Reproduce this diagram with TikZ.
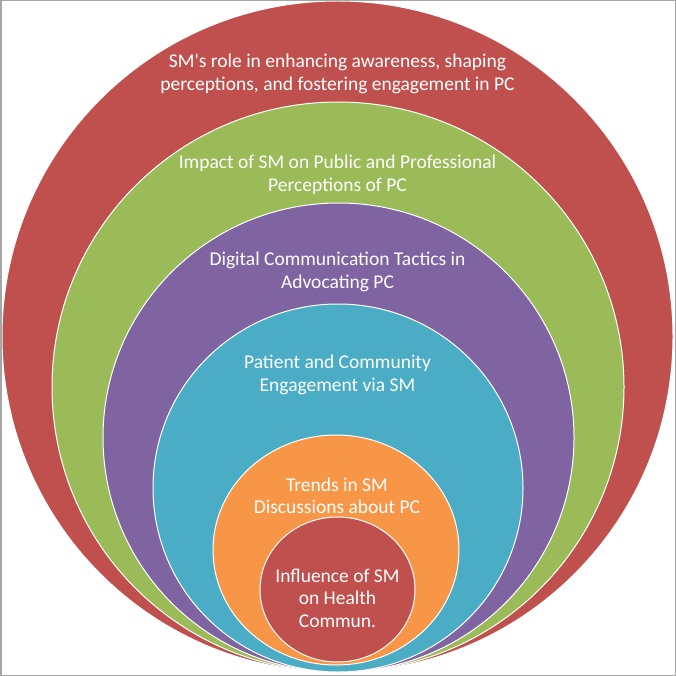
\documentclass[tikz,border=0pt]{standalone}
\usepackage{fontspec}
\setmainfont{Carlito}[Ligatures=TeXOff]
\definecolor{cRed}{HTML}{C0504D}
\definecolor{cGreen}{HTML}{9BBB59}
\definecolor{cPurple}{HTML}{8064A2}
\definecolor{cTeal}{HTML}{4BACC6}
\definecolor{cOrange}{HTML}{F79646}
\definecolor{cFrame}{HTML}{A6A6A6}
\begin{document}
\begin{tikzpicture}[x=1pt,y=-1pt,
  ring/.style={draw=white, line width=1pt},
  lbl/.style={text=white, align=center, inner sep=0pt,
    font=\fontsize{19.5}{22.5}\selectfont}]
\useasboundingbox (0,0) rectangle (676,676);
\fill[white] (0,0) rectangle (676,676);
% nested rings
\path[ring, fill=cRed]    (337.5,336.5) ellipse [x radius=335.5pt, y radius=335.5pt];
\path[ring, fill=cGreen]  (338,387)     ellipse [x radius=286pt,   y radius=285pt];
\path[ring, fill=cPurple] (338.5,437.5) ellipse [x radius=235.5pt, y radius=234.5pt];
\path[ring, fill=cTeal]   (338,488)     ellipse [x radius=185pt,   y radius=184pt];
\path[ring, fill=cOrange] (336,550)     ellipse [x radius=123pt,   y radius=115pt];
\path[ring, fill=cRed]    (337.5,589.5) ellipse [x radius=77.5pt,  y radius=72.5pt];
% labels
\node[lbl] (l1) at (337.5,74)  {SM's role in enhancing awareness, shaping\\perceptions, and fostering engagement in PC};
\node[lbl] (l2) at (337.5,175) {Impact of SM on Public and Professional\\Perceptions of PC};
\node[lbl] (l3) at (337.5,272) {Digital Communication Tactics in\\Advocating PC};
\node[lbl] (l4) at (337.5,375) {Patient and Community\\Engagement via SM};
\node[lbl] (l5) at (337,496)   {Trends in SM\\Discussions about PC};
\node[lbl] (l6) at (337.5,598) {Influence of SM\\on Health\\Commun.};
% frame
\draw[cFrame, line width=1.5pt] (0.75,0.75) rectangle (675.25,675.25);
\end{tikzpicture}
\end{document}
